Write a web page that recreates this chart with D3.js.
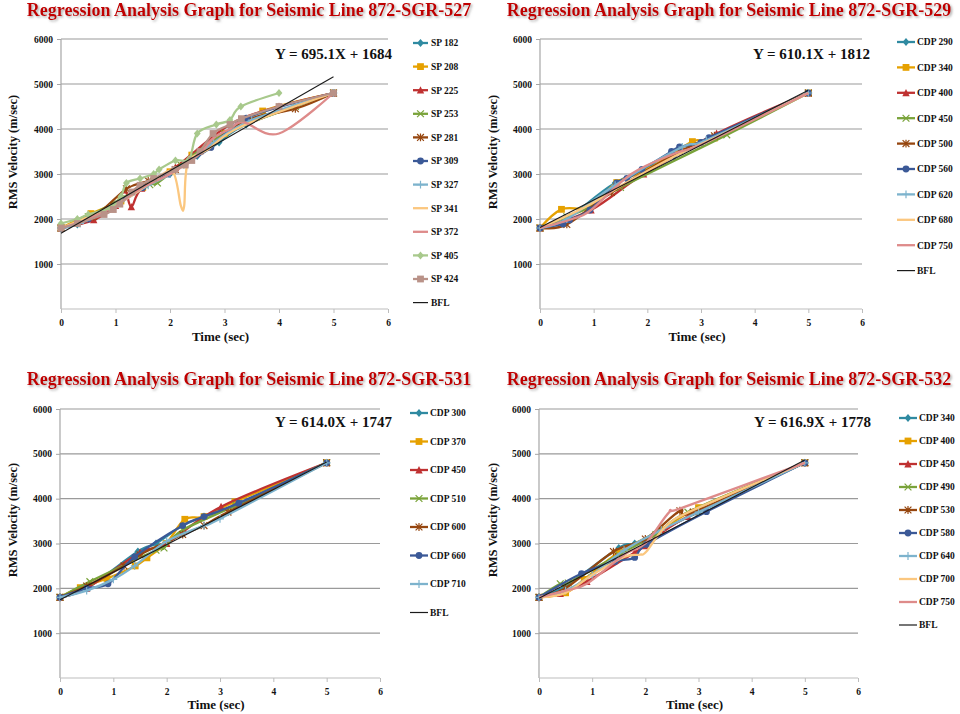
<!DOCTYPE html>
<html>
<head>
<meta charset="utf-8">
<script src="https://cdn.jsdelivr.net/npm/d3@7"></script>
<style>
  body { margin: 0; background: #fff; }
  svg { display: block; }
  text { font-family: "Liberation Serif", "Times New Roman", serif; font-weight: bold; }
</style>
</head>
<body>
<svg id="chart" width="960" height="714"></svg>
<script>
// ---------------- data ----------------
const timeTicks = [0, 1, 2, 3, 4, 5, 6];
const velocityTicks = [1000, 2000, 3000, 4000, 5000, 6000];

// Line 872-SGR-527 : shot points, [time (sec), RMS velocity (m/sec)]
const line527Names = ["SP 182", "SP 208", "SP 225", "SP 253", "SP 281", "SP 309", "SP 327", "SP 341", "SP 372", "SP 405", "SP 424"];
const line527Series = [
  [[0,1800],[0.3,1880],[0.6,2000],[1.0,2300],[1.5,2700],[2.0,3000],[2.5,3400],[2.9,3700],[3.4,4100],[5.0,4800]],
  [[0,1800],[0.55,2120],[1.1,2400],[1.5,2700],[2.0,3050],[2.4,3420],[3.0,3900],[3.7,4400],[5.0,4800]],
  [[0,1800],[0.6,1980],[1.0,2300],[1.17,2640],[1.29,2270],[1.48,2680],[2.1,3150],[3.1,4100],[4.0,4500],[5.0,4800]],
  [[0,1800],[0.5,2050],[1.1,2450],[1.63,2760],[1.77,2800],[2.2,3200],[3.0,3900],[4.3,4500],[5.0,4800]],
  [[0,1800],[0.6,2050],[1.2,2670],[1.6,2850],[2.1,3100],[2.7,3600],[3.4,4200],[4.3,4450],[5.0,4800]],
  [[0,1800],[0.5,2000],[1.5,2700],[1.97,3000],[2.75,3590],[3.4,4240],[5.0,4800]],
  [[0,1800],[0.35,1900],[1.0,2300],[1.6,2750],[2.0,3000],[2.8,3700],[3.5,4200],[5.0,4800]],
  [[0,1800],[0.6,2100],[1.2,2450],[1.7,2850],[2.05,3050],[2.2,2290],[2.26,2290],[2.33,3250],[2.7,3550],[3.3,4050],[5.0,4800]],
  [[0,1800],[0.5,2000],[1.0,2300],[1.5,2700],[2.0,3000],[2.5,3400],[2.8,3800],[3.1,4000],[3.35,4150],[4.0,3900],[5.0,4800]],
  [[0,1900],[0.3,2000],[0.5,2100],[0.9,2250],[1.1,2500],[1.2,2800],[1.45,2900],[1.7,3000],[1.8,3100],[2.1,3300],[2.35,3330],[2.5,3900],[2.85,4100],[3.1,4200],[3.3,4500],[4.0,4800]],
  [[0,1800],[0.3,1900],[0.79,2100],[0.96,2210],[1.08,2330],[1.3,2600],[1.45,2750],[1.7,2900],[2.09,3100],[2.28,3200],[2.4,3300],[2.55,3500],[2.79,3900],[3.1,4100],[3.31,4230],[4.0,4500],[5.0,4800]]
];
const line527Fit = [695.1, 1684];   // slope, intercept

// Line 872-SGR-529 : CDPs
const line529Names = ["CDP 290", "CDP 340", "CDP 400", "CDP 450", "CDP 500", "CDP 560", "CDP 620", "CDP 680", "CDP 750"];
const line529Series = [
  [[0,1800],[0.5,2000],[1.4,2800],[2.5,3400],[3.2,3800],[5.0,4800]],
  [[0,1800],[0.4,2215],[0.93,2270],[1.43,2810],[2.0,3100],[2.84,3720],[3.25,3800],[5.0,4800]],
  [[0,1800],[0.95,2200],[1.93,3000],[3.29,3900],[5.0,4800]],
  [[0,1800],[0.5,2050],[0.9,2250],[1.5,2700],[3.48,3870],[5.0,4800]],
  [[0,1800],[0.5,1880],[1.33,2590],[2.6,3500],[3.25,3850],[5.0,4800]],
  [[0,1800],[0.43,1890],[0.55,1980],[0.93,2200],[1.43,2800],[1.62,2900],[1.9,3100],[2.45,3500],[2.6,3600],[3.0,3700],[3.15,3810],[5.0,4800]],
  [[0,1800],[0.5,2000],[1.4,2750],[2.65,3600],[3.1,3750],[5.0,4800]],
  [[0,1800],[0.9,2300],[1.6,2800],[2.6,3450],[3.25,3800],[5.0,4800]],
  [[0,1800],[0.6,2000],[0.95,2200],[1.7,3000],[2.5,3450],[3.1,3700],[5.0,4800]]
];
const line529Fit = [610.1, 1812];

// Line 872-SGR-531 : CDPs
const line531Names = ["CDP 300", "CDP 370", "CDP 450", "CDP 510", "CDP 600", "CDP 660", "CDP 710"];
const line531Series = [
  [[0,1800],[0.5,2000],[1.46,2820],[1.8,3000],[2.3,3400],[2.7,3600],[3.4,3900],[5.0,4800]],
  [[0,1800],[0.38,2015],[0.88,2220],[1.41,2500],[1.63,2680],[1.99,3000],[2.34,3540],[2.7,3600],[3.28,3930],[5.0,4800]],
  [[0,1800],[0.5,2000],[1.5,2800],[2.0,3000],[3.02,3820],[5.0,4800]],
  [[0,1800],[0.56,2150],[1.8,2850],[1.95,2900],[2.3,3300],[3.3,3850],[5.0,4800]],
  [[0,1800],[0.5,2050],[1.2,2500],[1.5,2750],[2.3,3200],[2.7,3400],[3.15,3700],[5.0,4800]],
  [[0,1800],[0.5,2000],[0.9,2100],[1.4,2700],[2.3,3400],[2.7,3600],[3.35,3900],[5.0,4800]],
  [[0,1800],[0.5,1950],[1.0,2200],[1.4,2500],[2.0,3050],[2.7,3400],[3.0,3550],[5.0,4800]]
];
const line531Fit = [614.0, 1747];

// Line 872-SGR-532 : CDPs
const line532Names = ["CDP 340", "CDP 400", "CDP 450", "CDP 490", "CDP 530", "CDP 580", "CDP 640", "CDP 700", "CDP 750"];
const line532Series = [
  [[0,1800],[0.5,2050],[1.5,2900],[1.8,3000],[2.3,3300],[3.0,3700],[5.0,4800]],
  [[0,1800],[0.5,1900],[0.85,2200],[1.5,2800],[2.3,3300],[3.0,3800],[5.0,4800]],
  [[0,1800],[0.4,1880],[0.9,2150],[1.8,2800],[2.0,2950],[2.8,3600],[5.0,4800]],
  [[0,1800],[0.4,2100],[0.55,2120],[1.5,2750],[2.2,3200],[2.8,3700],[5.0,4800]],
  [[0,1800],[0.5,2000],[1.4,2820],[2.0,3100],[2.65,3730],[2.9,3700],[5.0,4800]],
  [[0,1800],[0.8,2330],[1.43,2600],[1.8,2690],[2.02,2980],[3.15,3710],[5.0,4800]],
  [[0,1800],[0.5,1950],[1.0,2300],[1.6,2850],[2.3,3300],[3.0,3700],[5.0,4800]],
  [[0,1800],[0.5,1900],[1.0,2300],[1.6,2700],[1.9,2750],[2.02,2820],[2.4,3400],[3.0,3800],[5.0,4800]],
  [[0,1800],[0.5,1950],[0.9,2100],[1.6,2750],[2.0,3000],[2.45,3700],[2.7,3800],[5.0,4800]]
];
const line532Fit = [616.9, 1778];

// ---------------- styles ----------------
const seriesColors = ["#2f8aa1", "#e6a100", "#bf3131", "#7aa33a", "#96460f", "#3b5997", "#7db3cd", "#fbc77f", "#de8b8a", "#a8c98c", "#b99288"];
const seriesMarkers = ["diamond", "square", "triangle", "x", "star", "circle", "plus", null, null, "diamond", "square"];
const titleColor = "#c00000";

const panels = [
  { names: line527Names, series: line527Series, fit: line527Fit, id: "527",
    left: 61, right: 388, top: 39, bottom: 309, titleX: 249, titleY: 16,
    legLine: [413, 428], legText: 431, legY: 43, legStep: 23.6,
    eqX: 275, eqY: 59, yTitleX: 13, yTitleY: 152, xTitleY: 341, tickY: 326 },
  { names: line529Names, series: line529Series, fit: line529Fit, id: "529",
    left: 540, right: 862, top: 39, bottom: 309, titleX: 729, titleY: 16,
    legLine: [897, 915], legText: 917, legY: 42, legStep: 25.4,
    eqX: 753, eqY: 59, yTitleX: 493, yTitleY: 152, xTitleY: 341, tickY: 326 },
  { names: line531Names, series: line531Series, fit: line531Fit, id: "531",
    left: 60, right: 380, top: 409, bottom: 678, titleX: 249, titleY: 385,
    legLine: [410, 428], legText: 430, legY: 413, legStep: 28.5,
    eqX: 275, eqY: 427, yTitleX: 13, yTitleY: 520, xTitleY: 709, tickY: 694 },
  { names: line532Names, series: line532Series, fit: line532Fit, id: "532",
    left: 539, right: 858, top: 409, bottom: 678, titleX: 729, titleY: 385,
    legLine: [899, 917], legText: 919, legY: 418, legStep: 23,
    eqX: 754, eqY: 427, yTitleX: 493, yTitleY: 520, xTitleY: 709, tickY: 694 }
];

const svg = d3.select("#chart");
const defs = svg.append("defs");
defs.append("filter").attr("id", "shadow").attr("x", "-5%").attr("y", "-30%").attr("width", "110%").attr("height", "160%")
  .append("feDropShadow").attr("dx", 1.5).attr("dy", 1.5).attr("stdDeviation", 0.8)
  .attr("flood-color", "#777").attr("flood-opacity", 0.6);

// draws one Excel-style marker centred at (x, y)
function marker(g, type, x, y, color) {
  const s = 3.4;
  if (!type) return;
  if (type === "diamond") {
    g.append("path").attr("d", `M${x},${y - s - 0.6}L${x + s},${y}L${x},${y + s + 0.6}L${x - s},${y}Z`).attr("fill", color);
  } else if (type === "square") {
    g.append("rect").attr("x", x - s).attr("y", y - s).attr("width", 2 * s).attr("height", 2 * s).attr("fill", color);
  } else if (type === "triangle") {
    g.append("path").attr("d", `M${x},${y - s - 0.5}L${x + s + 0.3},${y + s}L${x - s - 0.3},${y + s}Z`).attr("fill", color);
  } else if (type === "circle") {
    g.append("circle").attr("cx", x).attr("cy", y).attr("r", s).attr("fill", color);
  } else if (type === "x") {
    g.append("path").attr("d", `M${x - s},${y - s}L${x + s},${y + s}M${x - s},${y + s}L${x + s},${y - s}`)
      .attr("stroke", color).attr("stroke-width", 1.2).attr("fill", "none");
  } else if (type === "star") {
    g.append("path").attr("d", `M${x - s},${y - s}L${x + s},${y + s}M${x - s},${y + s}L${x + s},${y - s}M${x},${y - s - 0.5}L${x},${y + s + 0.5}`)
      .attr("stroke", color).attr("stroke-width", 1.2).attr("fill", "none");
  } else if (type === "plus") {
    g.append("path").attr("d", `M${x - s - 0.5},${y}L${x + s + 0.5},${y}M${x},${y - s - 0.5}L${x},${y + s + 0.5}`)
      .attr("stroke", color).attr("stroke-width", 1.2).attr("fill", "none");
  }
}

function drawPanel(p) {
  const g = svg.append("g").attr("class", "panel-" + p.id);
  const x = d3.scaleLinear().domain([0, 6]).range([p.left, p.right]);
  const y = d3.scaleLinear().domain([0, 6000]).range([p.bottom, p.top]);

  // title
  g.append("text").attr("x", p.titleX).attr("y", p.titleY).attr("text-anchor", "middle")
    .attr("font-size", 18).attr("fill", titleColor).attr("filter", "url(#shadow)")
    .text("Regression Analysis Graph for Seismic Line 872-SGR-" + p.id);

  // gridlines
  g.append("g").selectAll("line").data(velocityTicks).join("line")
    .attr("x1", p.left).attr("x2", p.right).attr("y1", d => y(d)).attr("y2", d => y(d))
    .attr("stroke", "#9a9a9a").attr("stroke-width", 1.2);

  // y axis
  const ya = g.append("g").attr("transform", `translate(${p.left},0)`)
    .call(d3.axisLeft(y).tickValues(velocityTicks).tickSize(4).tickPadding(4).tickFormat(d3.format("d")));
  ya.select(".domain").attr("stroke", "#a6a6a6").attr("stroke-width", 1.2).attr("d", `M0,${p.top}V${p.bottom}`);
  ya.selectAll(".tick line").attr("stroke", "#a6a6a6");
  ya.selectAll(".tick text").attr("font-size", 9.5).attr("font-family", "Liberation Serif, serif").attr("fill", "#111");

  // x axis
  const xa = g.append("g").attr("transform", `translate(0,${p.bottom})`)
    .call(d3.axisBottom(x).tickValues(timeTicks).tickSize(4).tickPadding(6).tickFormat(d3.format("d")));
  xa.select(".domain").attr("stroke", "#bdbdbd").attr("stroke-width", 1.2).attr("d", `M${p.left},0H${p.right}`);
  xa.selectAll(".tick line").attr("stroke", "#bdbdbd");
  xa.selectAll(".tick text").attr("font-size", 9.5).attr("font-family", "Liberation Serif, serif").attr("fill", "#111");

  // axis titles
  g.append("text").attr("transform", `translate(${p.yTitleX + 4},${p.yTitleY}) rotate(-90)`)
    .attr("text-anchor", "middle").attr("font-size", 12.5).attr("fill", "#111").text("RMS Velocity (m/sec)");
  g.append("text").attr("x", (p.left + p.right) / 2 - 4).attr("y", p.xTitleY).attr("text-anchor", "middle")
    .attr("font-size", 13).attr("fill", "#111").text("Time (sec)");

  // data series: smoothed lines with markers
  const line = d3.line().x(d => x(d[0])).y(d => y(d[1])).curve(d3.curveCardinal.tension(0));
  p.series.forEach((pts, i) => {
    const sg = g.append("g");
    sg.append("path").attr("d", line(pts)).attr("fill", "none")
      .attr("stroke", seriesColors[i]).attr("stroke-width", 2.3).attr("stroke-linejoin", "round");
    pts.forEach(d => marker(sg, seriesMarkers[i], x(d[0]), y(d[1]), seriesColors[i]));
  });

  // best fit line
  const [m, c] = p.fit;
  const fitPts = [0, 5].map(t => [t, m * t + c]);
  g.append("path").attr("d", d3.line().x(d => x(d[0])).y(d => y(d[1]))(fitPts))
    .attr("stroke", "#1a1a1a").attr("stroke-width", 1.1).attr("fill", "none");

  // regression equation
  g.append("text").attr("x", p.eqX).attr("y", p.eqY).attr("font-size", 15).attr("fill", "#111")
    .text(`Y = ${m.toFixed(1)}X + ${c}`);

  // legend
  const entries = p.names.map((n, i) => ({ name: n, i }));
  entries.push({ name: "BFL", i: -1 });
  entries.forEach((e, k) => {
    const ly = p.legY + k * p.legStep;
    const lg = g.append("g");
    const col = e.i < 0 ? "#1a1a1a" : seriesColors[e.i];
    lg.append("line").attr("x1", p.legLine[0]).attr("x2", p.legLine[1]).attr("y1", ly).attr("y2", ly)
      .attr("stroke", col).attr("stroke-width", e.i < 0 ? 1.2 : 2.3);
    if (e.i >= 0) marker(lg, seriesMarkers[e.i], (p.legLine[0] + p.legLine[1]) / 2, ly, col);
    lg.append("text").attr("x", p.legText).attr("y", ly + 3.3).attr("font-size", 9.5).attr("fill", "#111").text(e.name);
  });
}

panels.forEach(drawPanel);
</script>
</body>
</html>
